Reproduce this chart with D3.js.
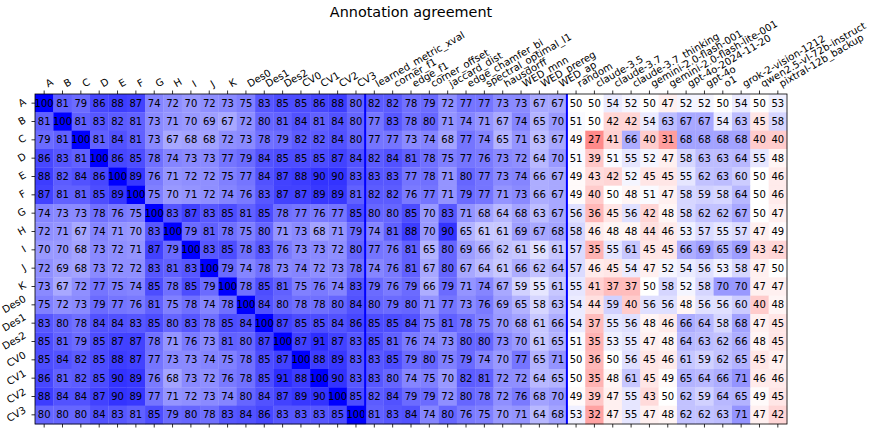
<!DOCTYPE html>
<html><head><meta charset="utf-8">
<script src="https://cdn.jsdelivr.net/npm/d3@7"></script>
<style>body{margin:0;background:#fff}svg{display:block}text{font-family:"DejaVu Sans",sans-serif}</style>
</head><body><div id="chart"></div>
<script>
const rowLabels = ["A","B","C","D","E","F","G","H","I","J","K","Des0","Des1","Des2","CV0","CV1","CV2","CV3"];
const humanCols = ["A","B","C","D","E","F","G","H","I","J","K","Des0","Des1","Des2","CV0","CV1","CV2","CV3"];
const metricCols = ["learned_metric_xval","corner_f1","edge_f1","corner_offset","jaccard_dist","edge_chamfer_bi","spectral_optimal_l1","hausdorff","WED_mnn","WED_prereg","WED_ap"];
const modelCols = ["random","claude-3.5","claude-3.7","claude-3.7_thinking","gemini-2.0-flash-001","gemini-2.0-flash-lite-001","gpt-4o-2024-11-20","gpt-4o","o1","grok-2-vision-1212","qwen2.5-vl-72b-instruct","pixtral-12b_backup"];

const humanVals = [
 [100,81,79,86,88,87,74,72,70,72,73,75,83,85,85,86,88,80],
 [81,100,81,83,82,81,73,71,70,69,67,72,80,81,84,81,84,80],
 [79,81,100,81,84,81,73,67,68,68,72,73,78,79,82,82,84,80],
 [86,83,81,100,86,85,78,74,73,73,77,79,84,85,85,85,87,84],
 [88,82,84,86,100,89,76,71,72,72,75,77,84,87,88,90,90,83],
 [87,81,81,85,89,100,75,70,71,72,74,76,83,87,87,89,89,81],
 [74,73,73,78,76,75,100,83,87,83,85,81,85,78,77,76,77,85],
 [72,71,67,74,71,70,83,100,79,81,78,75,80,71,73,68,71,79],
 [70,70,68,73,72,71,87,79,100,83,85,78,83,76,73,73,72,80],
 [72,69,68,73,72,72,83,81,83,100,79,74,78,73,74,72,73,78],
 [73,67,72,77,75,74,85,78,85,79,100,78,85,81,75,76,74,83],
 [75,72,73,79,77,76,81,75,78,74,78,100,84,80,78,78,80,84],
 [83,80,78,84,84,83,85,80,83,78,85,84,100,87,85,85,84,86],
 [85,81,79,85,87,87,78,71,76,73,81,80,87,100,87,91,87,83],
 [85,84,82,85,88,87,77,73,73,74,75,78,85,87,100,88,89,83],
 [86,81,82,85,90,89,76,68,73,72,76,78,85,91,88,100,90,83],
 [88,84,84,87,90,89,77,71,72,73,74,80,84,87,89,90,100,85],
 [80,80,80,84,83,81,85,79,80,78,83,84,86,83,83,83,85,100]
];
const metricVals = [
 [82,82,78,79,72,77,77,73,73,67,67],
 [77,83,78,80,71,74,71,67,74,65,70],
 [77,77,73,74,68,77,74,65,71,63,67],
 [82,84,81,78,75,77,76,73,72,64,70],
 [83,83,77,78,71,80,77,73,74,66,67],
 [82,82,76,77,71,79,77,71,73,66,67],
 [80,80,85,70,83,71,68,64,68,63,67],
 [74,81,88,70,90,65,61,61,69,67,68],
 [77,76,81,65,80,69,66,62,61,56,61],
 [74,76,81,67,80,67,64,61,66,62,64],
 [79,76,79,66,79,71,74,67,59,55,61],
 [80,79,80,71,77,73,76,69,65,58,63],
 [85,85,84,75,81,78,75,70,68,61,66],
 [85,81,76,74,73,80,80,73,70,61,65],
 [83,85,79,80,75,79,74,70,77,65,71],
 [83,80,74,75,70,82,81,72,72,64,65],
 [82,84,79,79,72,80,78,72,76,68,70],
 [81,83,84,74,80,76,75,70,71,64,68]
];
const modelVals = [
 [50,50,54,52,50,47,52,52,50,54,50,53],
 [51,50,42,42,54,63,67,67,54,63,45,58],
 [49,27,41,66,40,31,68,68,68,68,40,40],
 [51,39,51,55,52,47,58,63,63,64,55,48],
 [49,43,42,52,45,45,55,62,63,60,50,46],
 [49,40,50,48,51,47,58,59,58,64,50,46],
 [56,36,45,56,42,48,58,62,62,67,50,47],
 [58,46,48,48,44,46,53,57,55,57,47,49],
 [57,35,55,61,45,45,66,69,65,69,43,42],
 [57,46,45,54,47,52,54,56,53,58,47,50],
 [55,41,37,37,50,58,52,58,70,70,47,47],
 [54,44,59,40,56,56,48,56,56,60,40,48],
 [54,37,55,56,48,46,66,64,58,68,47,45],
 [51,35,53,55,47,48,64,63,62,66,48,45],
 [50,36,50,56,45,46,61,59,62,65,45,47],
 [50,35,48,61,45,49,65,64,66,71,46,46],
 [49,39,47,55,43,50,62,59,64,65,49,45],
 [53,32,47,55,47,48,62,62,63,71,47,42]
];
const title = "Annotation agreement";

const W = 877, H = 435;
const L = 35, R = 787, T = 94, B = 424;
const colLabels = humanCols.concat(metricCols, modelCols);
const colKeys = colLabels.map((d,i)=>i+"|"+d);
const rowKeys = rowLabels.map((d,i)=>i+"|"+d);

const cells = [];
rowLabels.forEach((r,i)=>{
  const vals = humanVals[i].concat(metricVals[i], modelVals[i]);
  vals.forEach((v,j)=>cells.push({r:rowKeys[i], c:colKeys[j], v}));
});

const x = d3.scaleBand().domain(colKeys).range([L,R]);
const y = d3.scaleBand().domain(rowKeys).range([T,B]);
const color = d3.scaleLinear().domain([0,50,100]).range(["#ff0000","#ffffff","#0000ff"]);

const svg = d3.select("#chart").append("svg").attr("width",W).attr("height",H);

svg.append("text").attr("x",(L+R)/2).attr("y",17).attr("text-anchor","middle")
  .attr("font-size","14.4px").attr("fill","#000").text(title);

const g = svg.append("g");
g.selectAll("rect.cell").data(cells).enter().append("rect").attr("class","cell")
  .attr("x",d=>x(d.c)).attr("y",d=>y(d.r))
  .attr("width",x.bandwidth()+0.3).attr("height",y.bandwidth()+0.3)
  .attr("fill",d=>color(d.v));

g.selectAll("text.val").data(cells).enter().append("text").attr("class","val")
  .attr("x",d=>x(d.c)+x.bandwidth()/2).attr("y",d=>y(d.r)+y.bandwidth()/2)
  .attr("dy","0.36em").attr("text-anchor","middle").attr("font-size","10px").attr("fill","#000")
  .text(d=>d.v);

// separator lines
[humanCols.length, humanCols.length+metricCols.length].forEach(k=>{
  const xx = x(colKeys[k]);
  svg.append("line").attr("x1",xx).attr("x2",xx).attr("y1",T).attr("y2",B)
    .attr("stroke","#0000ff").attr("stroke-width",2);
});

// frame
svg.append("rect").attr("x",L).attr("y",T).attr("width",R-L).attr("height",B-T)
  .attr("fill","none").attr("stroke","#000").attr("stroke-width",0.8);

// axes (ticks only, custom labels)
const topAx = svg.append("g").attr("transform",`translate(0,${T})`)
  .call(d3.axisTop(x).tickSize(3.5).tickFormat(""));
const botAx = svg.append("g").attr("transform",`translate(0,${B})`)
  .call(d3.axisBottom(x).tickSize(3.5).tickFormat(""));
const leftAx = svg.append("g").attr("transform",`translate(${L},0)`)
  .call(d3.axisLeft(y).tickSize(3.5).tickFormat(""));
[topAx,botAx,leftAx].forEach(a=>{a.select(".domain").remove();a.selectAll("line").attr("stroke","#000").attr("stroke-width",0.8);});

const s30 = 0.5, c30 = Math.sqrt(3)/2, asc = 7.6, desc = 2.4;
// column labels rotated 30deg, bbox left at tick
colKeys.forEach((k,j)=>{
  const cx = x(k)+x.bandwidth()/2;
  const x0 = cx + asc*s30, y0 = T - 4.5 - desc*c30;
  svg.append("text").attr("transform",`translate(${x0},${y0}) rotate(-30)`)
    .attr("font-size","10px").attr("fill","#000").text(colLabels[j]);
});
// row labels rotated 30deg, bbox right at tick, centred vertically
rowKeys.forEach((k,i)=>{
  const cy = y(k)+y.bandwidth()/2;
  const t = svg.append("text").attr("font-size","10px").attr("fill","#000")
    .attr("text-anchor","end").text(rowLabels[i]);
  const len = t.node().getComputedTextLength();
  const x0 = L - 7 - desc*s30;
  const y0 = cy - (len*s30 + desc*c30 - asc*c30)/2;
  t.attr("transform",`translate(${x0},${y0}) rotate(-30)`);
});
</script></body></html>
